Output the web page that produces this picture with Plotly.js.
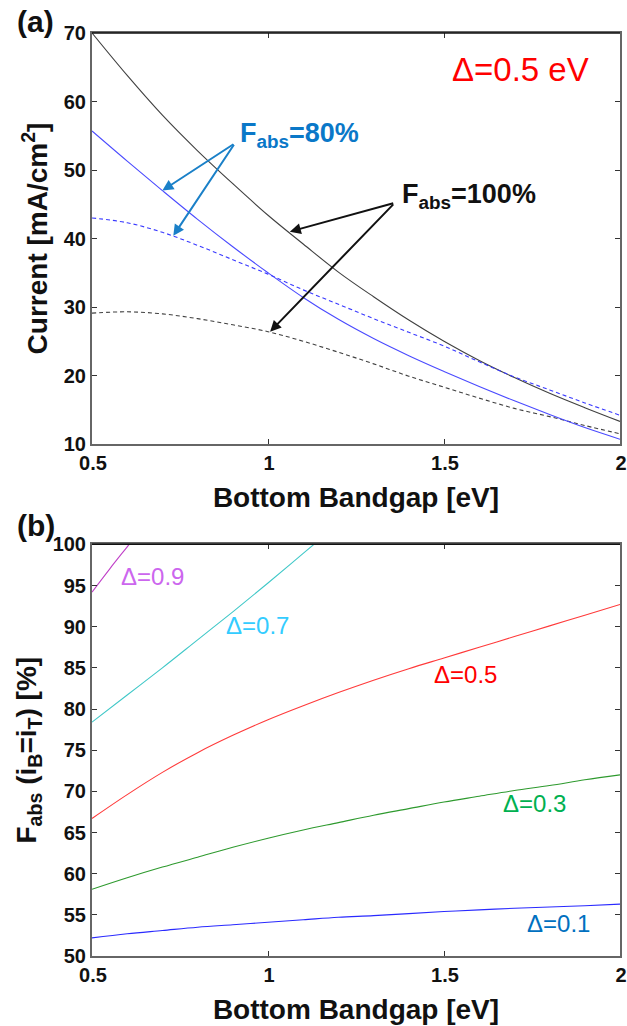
<!DOCTYPE html>
<html>
<head>
<meta charset="utf-8">
<script src="https://cdn.plot.ly/plotly-3.0.1.min.js"></script>
<style>
  html, body { margin: 0; padding: 0; background: #fff; }
  #chart { width: 627px; height: 1026px; }
</style>
</head>
<body>
<div id="chart"></div>
<script>
// Bottom-cell bandgap grid (eV)
const bandgap = [0.5, 0.6, 0.7, 0.8, 0.9, 1.0, 1.1, 1.2, 1.3, 1.4, 1.5, 1.6, 1.7, 1.8, 1.9, 2.0];

// (a) current density, Δ = 0.5 eV  [mA/cm²]
const current100Solid = [70.0, 63.8, 58.0, 52.8, 48.0, 43.4, 39.2, 35.1, 31.5, 28.1, 25.0, 22.2, 19.7, 17.4, 15.3, 13.3];
const current100Dash  = [29.1, 29.3, 29.0, 28.3, 27.4, 26.4, 25.0, 23.4, 21.7, 19.9, 18.3, 16.7, 15.2, 14.0, 12.7, 11.5];
const current80Solid  = [55.7, 51.3, 47.0, 42.8, 38.8, 35.0, 31.4, 28.2, 25.4, 22.9, 20.6, 18.4, 16.3, 14.3, 12.4, 10.7];
const current80Dash   = [43.0, 42.3, 40.9, 39.0, 36.9, 34.8, 32.5, 30.4, 28.3, 26.3, 24.3, 22.0, 19.8, 17.9, 16.0, 14.2];

// (b) absorption fraction giving matched currents [%]
const fabs01 = [52.2, 52.7, 53.1, 53.5, 53.8, 54.1, 54.4, 54.7, 54.9, 55.15, 55.4, 55.6, 55.8, 55.95, 56.1, 56.3];
const fabs03 = [58.1, 59.5, 60.8, 62.0, 63.2, 64.3, 65.3, 66.2, 67.1, 67.9, 68.7, 69.4, 70.1, 70.7, 71.4, 72.0];
const fabs05 = [66.7, 69.6, 72.3, 74.7, 76.8, 78.7, 80.4, 82.0, 83.5, 84.9, 86.2, 87.5, 88.8, 90.1, 91.4, 92.7];
const bandgap07 = [0.5, 0.6, 0.7, 0.8, 0.9, 1.0, 1.1, 1.2];
const fabs07 = [78.4, 81.7, 85.0, 88.4, 91.8, 95.3, 98.9, 102.5];
const bandgap09 = [0.5, 0.55, 0.6, 0.65];
const fabs09 = [94.2, 97.0, 99.7, 102.4];

const deltaLabels = ['Δ=0.1', 'Δ=0.3', 'Δ=0.5', 'Δ=0.7', 'Δ=0.9'];
const fabsLabel80 = 'F<sub>abs</sub>=80%';
const fabsLabel100 = 'F<sub>abs</sub>=100%';

const FONT = 'Liberation Sans, Arial, sans-serif';
const DASH = '4px,3px';

function line(x, y, color, dash, xa, ya) {
  return {
    type: 'scatter', mode: 'lines', x: x, y: y,
    xaxis: xa, yaxis: ya, hoverinfo: 'skip', showlegend: false,
    line: { color: color, width: 1.1, dash: dash || 'solid', shape: 'spline', smoothing: 1 }
  };
}

const traces = [
  line(bandgap, current100Solid, '#404040', null, 'x', 'y'),
  line(bandgap, current100Dash, '#404040', DASH, 'x', 'y'),
  line(bandgap, current80Solid, '#4a4aff', null, 'x', 'y'),
  line(bandgap, current80Dash, '#3a3aff', DASH, 'x', 'y'),

  line(bandgap, fabs01, '#2a2aff', null, 'x2', 'y2'),
  line(bandgap, fabs03, '#2e9a2e', null, 'x2', 'y2'),
  line(bandgap, fabs05, '#ff3a3a', null, 'x2', 'y2'),
  line(bandgap07, fabs07, '#40c8c8', null, 'x2', 'y2'),
  line(bandgap09, fabs09, '#c040c8', null, 'x2', 'y2')
];

const tickFont = { family: FONT, size: 20, weight: 'bold', color: '#111' };
const titleFont = { family: FONT, size: 28, weight: 'bold', color: '#111' };

function xAxis(anchor) {
  return {
    anchor: anchor, domain: [0, 1], range: [0.5, 2],
    tick0: 0.5, dtick: 0.5, ticks: 'inside', ticklen: 5, tickwidth: 1, tickcolor: '#333',
    showline: true, linecolor: '#666', linewidth: 2, mirror: 'ticks',
    showgrid: false, zeroline: false, tickfont: tickFont, ticklabelshift: 1,
    ticklabeloverflow: 'allow',
    title: { text: 'Bottom Bandgap [eV]', font: titleFont, standoff: 14 }
  };
}
function yAxis(anchor, domain, range, dtick, title) {
  return {
    anchor: anchor, domain: domain, range: range, dtick: dtick,
    ticks: 'inside', ticklen: 5, tickwidth: 1, tickcolor: '#333',
    showline: true, linecolor: '#666', linewidth: 2, mirror: 'ticks',
    showgrid: false, zeroline: false, tickfont: tickFont, ticklabeloverflow: 'allow',
    title: { text: title, font: titleFont, standoff: 8 }
  };
}

// arrow helper: tail (ax, ay) -> tip (x, y), all in data units
function arrow(xa, ya, x, y, ax, ay, color) {
  return {
    xref: xa, yref: ya, axref: xa, ayref: ya,
    x: x, y: y, ax: ax, ay: ay, text: '',
    showarrow: true, arrowhead: 2, arrowsize: 1.1, arrowwidth: 2, arrowcolor: color, standoff: 0
  };
}
function label(xa, ya, x, y, text, color, size, weight, xanchor) {
  return {
    xref: xa, yref: ya, x: x, y: y, text: text, showarrow: false,
    xanchor: xanchor || 'center', yanchor: 'middle',
    font: { family: FONT, size: size, color: color, weight: weight || 'normal' }
  };
}

const deltaColors = ['#0070c0', '#00b050', '#ff0000', '#33ccff', '#cc66ee'];
const deltaPos = [[1.8255, 54.0], [1.758, 68.5], [1.561, 84.15], [0.97, 90.2], [0.671, 96.1]];

const annotations = [
  // panel tags
  { xref: 'paper', yref: 'paper', x: -0.145, y: 1.012, xanchor: 'left', yanchor: 'middle', showarrow: false,
    text: '(a)', font: { family: FONT, size: 30, weight: 'bold', color: '#111' } },
  { xref: 'paper', yref: 'paper', x: -0.145, y: 0.466, xanchor: 'left', yanchor: 'middle', showarrow: false,
    text: '(b)', font: { family: FONT, size: 30, weight: 'bold', color: '#111' } },

  label('x', 'y', 1.717, 64.6, 'Δ=0.5 eV', '#ff0000', 33),
  label('x', 'y', 0.9135, 55.1, fabsLabel80, '#0a78c8', 27, 'bold', 'left'),
  label('x', 'y', 1.374, 46.2, fabsLabel100, '#111', 27, 'bold', 'left'),

  arrow('x', 'y', 0.70, 47.0, 0.906, 53.9, '#1a80c8'),
  arrow('x', 'y', 0.731, 40.4, 0.906, 53.9, '#1a80c8'),
  arrow('x', 'y', 1.062, 41.0, 1.36, 45.2, '#111'),
  arrow('x', 'y', 1.006, 26.4, 1.36, 45.2, '#111')
];
deltaLabels.forEach(function (t, i) {
  annotations.push(label('x2', 'y2', deltaPos[i][0], deltaPos[i][1], t, deltaColors[i], 24));
});

const layout = {
  width: 627, height: 1026,
  margin: { l: 92, r: 7, t: 33, b: 70 },
  paper_bgcolor: '#fff', plot_bgcolor: '#fff',
  showlegend: false,
  xaxis: xAxis('y'),
  yaxis: yAxis('x', [0.5547, 1], [10, 70], 10, 'Current [mA/cm<sup>2</sup>]'),
  xaxis2: xAxis('y2'),
  yaxis2: yAxis('x2', [0, 0.446], [50, 100], 5, 'F<sub>abs</sub> (i<sub>B</sub>=i<sub>T</sub>) [%]'),
  annotations: annotations,
  shapes: [
    { type: 'line', xref: 'x domain', yref: 'y domain', x0: 0, x1: 1, y0: 1, y1: 1, line: { color: '#111', width: 1.5 } },
    { type: 'line', xref: 'x2 domain', yref: 'y2 domain', x0: 0, x1: 1, y0: 1, y1: 1, line: { color: '#111', width: 1.5 } }
  ]
};

Plotly.newPlot('chart', traces, layout, { staticPlot: true, displayModeBar: false });
</script>
</body>
</html>
